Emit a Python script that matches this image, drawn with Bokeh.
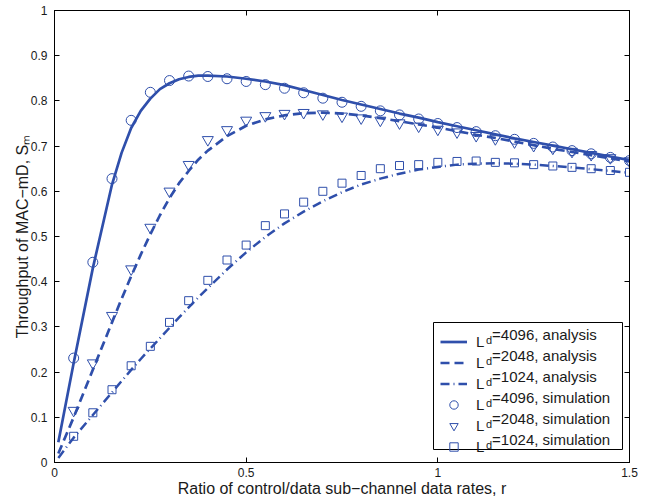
from bokeh.plotting import figure
from bokeh.models import (Range1d, LinearAxis, FixedTicker, Legend, LegendItem,
                          Label, BoxAnnotation)
from bokeh.embed import file_html
from bokeh.resources import INLINE

# ---------------- data ----------------
r_sim = [0.05, 0.10, 0.15, 0.20, 0.25, 0.30, 0.35, 0.40, 0.45, 0.50,
         0.55, 0.60, 0.65, 0.70, 0.75, 0.80, 0.85, 0.90, 0.95, 1.00,
         1.05, 1.10, 1.15, 1.20, 1.25, 1.30, 1.35, 1.40, 1.45, 1.50]
sim_4096 = [0.231, 0.443, 0.628, 0.757, 0.819, 0.845, 0.855, 0.854, 0.849, 0.843,
            0.836, 0.828, 0.818, 0.806, 0.797, 0.788, 0.778, 0.769, 0.760, 0.750,
            0.741, 0.732, 0.723, 0.715, 0.706, 0.698, 0.690, 0.683, 0.675, 0.668]
sim_2048 = [0.115, 0.220, 0.325, 0.428, 0.520, 0.600, 0.659, 0.714, 0.736, 0.757,
            0.767, 0.772, 0.774, 0.771, 0.766, 0.762, 0.757, 0.751, 0.744, 0.737,
            0.731, 0.723, 0.716, 0.709, 0.701, 0.695, 0.688, 0.681, 0.674, 0.667]
sim_1024 = [0.058, 0.110, 0.161, 0.214, 0.257, 0.310, 0.358, 0.403, 0.448, 0.481,
            0.524, 0.550, 0.576, 0.600, 0.618, 0.635, 0.650, 0.657, 0.659, 0.664,
            0.666, 0.667, 0.664, 0.663, 0.659, 0.656, 0.653, 0.650, 0.646, 0.642]

r_ana = [0.01, 0.05, 0.10, 0.15, 0.175, 0.20, 0.225, 0.25, 0.275, 0.30, 0.325,
         0.35, 0.375, 0.40, 0.45, 0.50, 0.55, 0.60, 0.65, 0.70, 0.75, 0.80,
         0.85, 0.90, 0.95, 1.00, 1.05, 1.10, 1.15, 1.20, 1.25, 1.30, 1.35,
         1.40, 1.45, 1.50]
ana_4096 = [0.045, 0.220, 0.430, 0.615, 0.685, 0.740, 0.778, 0.805, 0.826, 0.839, 0.848,
            0.853, 0.856, 0.856, 0.854, 0.849, 0.843, 0.835, 0.824, 0.813, 0.802, 0.792,
            0.782, 0.772, 0.763, 0.753, 0.744, 0.735, 0.726, 0.717, 0.709, 0.701, 0.693,
            0.685, 0.677, 0.669]
ana_2048 = [0.020, 0.100, 0.205, 0.310, 0.362, 0.412, 0.460, 0.505, 0.547, 0.585, 0.618,
            0.645, 0.670, 0.690, 0.722, 0.745, 0.759, 0.768, 0.773, 0.774, 0.772, 0.768,
            0.762, 0.755, 0.748, 0.741, 0.733, 0.725, 0.718, 0.710, 0.702, 0.694, 0.687,
            0.680, 0.673, 0.666]
ana_1024 = [0.010, 0.055, 0.105, 0.155, 0.180, 0.205, 0.229, 0.252, 0.275, 0.298, 0.321,
            0.343, 0.365, 0.386, 0.427, 0.465, 0.499, 0.529, 0.555, 0.578, 0.598, 0.615,
            0.628, 0.639, 0.648, 0.654, 0.659, 0.661, 0.662, 0.661, 0.659, 0.656, 0.653,
            0.649, 0.645, 0.641]

x_ticks = [0, 0.5, 1, 1.5]
x_tick_labels = ["0", "0.5", "1", "1.5"]
y_ticks = [0, 0.1, 0.2, 0.3, 0.4, 0.5, 0.6, 0.7, 0.8, 0.9, 1]
y_tick_labels = ["0", "0.1", "0.2", "0.3", "0.4", "0.5", "0.6", "0.7", "0.8", "0.9", "1"]

legend_ld = ["4096", "2048", "1024", "4096", "2048", "1024"]
legend_kind = ["analysis", "analysis", "analysis", "simulation", "simulation", "simulation"]

x_title = "Ratio of control/data sub\u2212channel data rates, r"
y_title = "Throughput of MAC\u2212mD, S\u2098"

# ---------------- style ----------------
BLUE = "#2F4FAB"
FONT = "Liberation Sans"
TXT = "#1a1a1a"

p = figure(width=653, height=500, output_backend="svg", toolbar_location=None,
           x_range=Range1d(0, 1.5), y_range=Range1d(0, 1),
           min_border_left=54, min_border_right=24, min_border_top=10,
           min_border_bottom=38)
p.xgrid.visible = False
p.ygrid.visible = False
p.outline_line_color = "black"
p.outline_line_width = 1
p.background_fill_color = "white"
p.border_fill_color = "white"

def style_axis(ax, ticks, labels, show_labels=True):
    ax.ticker = FixedTicker(ticks=ticks)
    ax.major_label_overrides = {t: s for t, s in zip(ticks, labels)}
    ax.major_tick_in = 5
    ax.major_tick_out = 0
    ax.minor_tick_in = 0
    ax.minor_tick_out = 0
    ax.axis_line_color = "black"
    ax.major_tick_line_color = "black"
    ax.major_label_text_font = FONT
    ax.major_label_text_font_size = "12px" if show_labels else "0px"
    ax.major_label_text_color = TXT
    ax.axis_label_text_font = FONT
    ax.axis_label_text_font_size = "16px"
    ax.axis_label_text_font_style = "normal"
    ax.axis_label_text_color = TXT

style_axis(p.xaxis[0], x_ticks, x_tick_labels)
style_axis(p.yaxis[0], y_ticks, y_tick_labels)
p.xaxis[0].major_label_standoff = 5
p.xaxis[0].axis_label = x_title
p.xaxis[0].axis_label_standoff = 0
p.yaxis[0].major_label_standoff = 7
p.yaxis[0].axis_label = y_title
p.yaxis[0].axis_label_standoff = -3

top_ax = LinearAxis(major_label_standoff=0)
style_axis(top_ax, x_ticks, ["", "", "", ""], show_labels=False)
p.add_layout(top_ax, "above")
right_ax = LinearAxis(major_label_standoff=0)
style_axis(right_ax, y_ticks, [""] * len(y_ticks), show_labels=False)
p.add_layout(right_ax, "right")

# ---------------- glyphs ----------------
l1 = p.line(r_ana, ana_4096, line_color=BLUE, line_width=2.7)
l2 = p.line(r_ana, ana_2048, line_color=BLUE, line_width=2.7, line_dash="9 5")
l3 = p.line(r_ana, ana_1024, line_color=BLUE, line_width=2.5, line_dash="9 4 1 4")
s1 = p.scatter(r_sim, sim_4096, marker="circle", size=10, line_color=BLUE,
               fill_color=None, line_width=1)
s2 = p.scatter(r_sim, sim_2048, marker="inverted_triangle", size=11, line_color=BLUE,
               fill_color=None, line_width=1)
s3 = p.scatter(r_sim, sim_1024, marker="square", size=8, line_color=BLUE,
               fill_color=None, line_width=1)

# ---------------- legend ----------------
# frame: left 54, bottom 462 on the canvas
box = BoxAnnotation(left=379, right=568, bottom=13, top=140,
                    left_units="screen", right_units="screen",
                    bottom_units="screen", top_units="screen",
                    fill_color="white", fill_alpha=1, line_color="black",
                    line_width=1, line_alpha=1)
p.add_layout(box)

renderers = [l1, l2, l3, s1, s2, s3]
legend = Legend(items=[LegendItem(label="L", renderers=[r]) for r in renderers],
                location=(386, 5), orientation="vertical",
                padding=8, spacing=0, margin=0,
                glyph_width=27, glyph_height=21, label_height=21, label_width=20,
                label_standoff=9,
                label_text_font=FONT, label_text_font_size="15px",
                label_text_color=TXT,
                background_fill_alpha=0, border_line_color=None)
p.add_layout(legend)

row0 = 462 - 5 - 142 + 8 + 10.5  # canvas y of first row centre
for i, (ld, kind) in enumerate(zip(legend_ld, legend_kind)):
    cy = row0 + 21 * i
    fy = 462 - cy
    p.add_layout(Label(x=431.5, y=fy - 6, x_units="screen", y_units="screen",
                       text="d", text_font=FONT, text_font_size="11px",
                       text_color=TXT, text_baseline="middle", text_align="left"))
    p.add_layout(Label(x=437.6, y=fy, x_units="screen", y_units="screen",
                       text="=" + ld + ", " + kind, text_font=FONT,
                       text_font_size="15px", text_color=TXT,
                       text_baseline="middle", text_align="left"))

open("out.html", "w").write(file_html(p, INLINE))
